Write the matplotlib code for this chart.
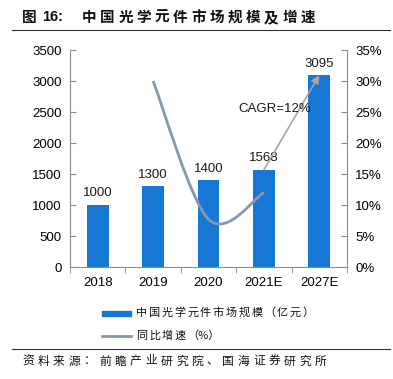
import matplotlib.pyplot as plt
import numpy as np
from matplotlib.path import Path
from matplotlib.patches import PathPatch, Rectangle
from matplotlib.lines import Line2D

plt.rcParams['font.family'] = ['Liberation Sans', 'Noto Sans CJK SC', 'DejaVu Sans']
CJK = ['Noto Sans CJK SC', 'DejaVu Sans']

# data
years = ['2018', '2019', '2020', '2021E', '2027E']
market = [1000, 1300, 1400, 1568, 3095]          # 亿元
growth = [None, 30.0, 7.7, 12.0, None]            # %
left_ticks = list(range(0, 3501, 500))
right_ticks = list(range(0, 36, 5))
title = '中国光学元件市场规模及增速'
source = '资料来源：前瞻产业研究院、国海证券研究所'
bar_label = '中国光学元件市场规模（亿元）'
line_label = '同比增速（%）'

BAR = '#1777D4'
LINE = '#8497B4'
AXC = '#8C8C8C'
W, H = 393, 379

fig = plt.figure(figsize=(W / 100, H / 100), dpi=100)
ax = fig.add_axes([70 / W, 1 - 267 / H, 277 / W, 217 / H])
ax2 = ax.twinx()


def spaced(x0, y, text, step, size, weight='normal'):
    # place each character on a fixed pitch, like the spaced text of the report
    for i, ch in enumerate(text):
        fig.text((x0 + i * step) / W, 1 - y / H, ch, ha='left', va='center',
                 fontsize=size, fontweight=weight, family=CJK, color='#111111')


x = np.arange(len(years))
ax.bar(x, market, width=0.39, color=BAR, zorder=2)
for xi, v in zip(x, market):
    ax.annotate(str(v), (xi, v), xytext=(0, 4), textcoords='offset points',
                ha='center', va='bottom', fontsize=9.5, color='#1a1a1a')

ax.set_xlim(-0.5, len(years) - 0.5)
ax.set_ylim(0, 3500)
ax.set_yticks(left_ticks)
ax.set_xticks(x)
ax.set_xticklabels(years)
ax.set_xticks(np.arange(-0.5, len(years), 1), minor=True)
ax.tick_params(axis='x', which='major', length=0, labelsize=9.5, pad=7)
ax.tick_params(axis='x', which='minor', length=4, direction='out', color=AXC)
ax.tick_params(axis='y', length=4, direction='in', color=AXC, labelsize=9.5, pad=6)

# smoothed growth line (cubic Bezier through the data points)
pts = [(xi, g) for xi, g in zip(x, growth) if g is not None]
verts = [pts[0]]
codes = [Path.MOVETO]
for i in range(len(pts) - 1):
    p0 = np.array(pts[max(i - 1, 0)], float)
    p1 = np.array(pts[i], float)
    p2 = np.array(pts[i + 1], float)
    p3 = np.array(pts[min(i + 2, len(pts) - 1)], float)
    c1 = p1 + (p2 - p0) / 6
    c2 = p2 - (p3 - p1) / 6
    verts += [tuple(c1), tuple(c2), tuple(p2)]
    codes += [Path.CURVE4] * 3
ax2.add_patch(PathPatch(Path(verts, codes), fill=False, edgecolor=LINE, lw=2, zorder=3))
ax2.set_ylim(0, 35)
ax2.set_yticks(right_ticks)
ax2.set_yticklabels([f'{t}%' for t in right_ticks])
ax2.tick_params(axis='y', length=4, direction='in', color=AXC, labelsize=9.5, pad=6)

for a in (ax, ax2):
    a.spines['top'].set_visible(False)
    for s in ('left', 'right', 'bottom'):
        a.spines[s].set_color(AXC)
ax.spines['right'].set_visible(False)
ax2.spines['left'].set_visible(False)
ax2.spines['bottom'].set_visible(False)

# CAGR arrow
ax.annotate('', xy=(4, market[4]), xytext=(3, market[3]),
            arrowprops=dict(arrowstyle='-|>', color='#A6A6A6', lw=1.2,
                            mutation_scale=12, shrinkA=0, shrinkB=0), zorder=4)
ax.text(3.2, 2550, 'CAGR=12%', ha='center', va='center', fontsize=9.5, color='#1a1a1a', zorder=5)

# title
fig.text(22 / W, 1 - 17 / H, '图', ha='left', va='center', fontsize=10.5,
         fontweight='bold', family=CJK, color='#111111')
fig.text(42 / W, 1 - 17 / H, '16:', ha='left', va='center', fontsize=10.5,
         fontweight='bold', family=['Liberation Sans', 'Noto Sans CJK SC'], color='#111111')
spaced(82, 17, title, 18.2, 10.5, 'bold')
fig.add_artist(Line2D([12 / W, 390 / W], [1 - 29.5 / H] * 2, color='#333333', lw=0.8))

# legend, drawn by hand
fig.add_artist(Rectangle((102 / W, 1 - 315.5 / H), 29 / W, 5 / H, color=BAR,
                         transform=fig.transFigure))
fig.add_artist(Line2D([102 / W, 131 / W], [1 - 336 / H] * 2, color=LINE, lw=2))
spaced(136, 313, bar_label, 12.8, 8)
spaced(136, 336, line_label[:4], 12.8, 8)
fig.text((136 + 4 * 12.8) / W, 1 - 336 / H, line_label[4:], ha='left', va='center',
         fontsize=8, family=CJK, color='#111111')

# source
fig.add_artist(Line2D([12 / W, 390 / W], [1 - 349 / H] * 2, color='#333333', lw=0.8))
spaced(22, 361, source, 15.4, 8.5)

fig.savefig('out.png', dpi=100)
